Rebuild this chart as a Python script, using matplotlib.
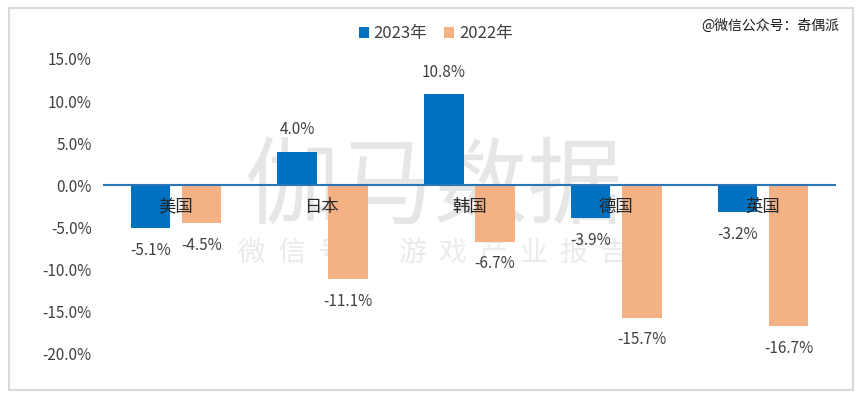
import numpy as np
import matplotlib
matplotlib.use("Agg")
import matplotlib.pyplot as plt
from matplotlib.patches import Rectangle

plt.rcParams["font.family"] = ["Noto Sans CJK SC", "DejaVu Sans"]

countries = ["美国", "日本", "韩国", "德国", "英国"]
growth_2023 = [-5.1, 4.0, 10.8, -3.9, -3.2]
growth_2022 = [-4.5, -11.1, -6.7, -15.7, -16.7]
series_names = ["2023年", "2022年"]
y_ticks = [-20, -15, -10, -5, 0, 5, 10, 15]

BLUE = "#0070C0"
ORANGE = "#F4B183"
TEXT = "#404040"

fig = plt.figure(figsize=(8.63, 3.98), dpi=100)
ax = fig.add_axes([0.119, 0.111, 0.850, 0.741])

x = np.arange(len(countries))
w = 0.27
off = 0.174
b1 = ax.bar(x - off, growth_2023, w, color=BLUE, label=series_names[0], zorder=3)
b2 = ax.bar(x + off, growth_2022, w, color=ORANGE, label=series_names[1], zorder=3)

for bars, vals in ((b1, growth_2023), (b2, growth_2022)):
    for rect, v in zip(bars, vals):
        cx = rect.get_x() + rect.get_width() / 2
        dy = 16 if v >= 0 else -16
        ax.annotate(f"{v:.1f}%", (cx, v), xytext=(0, dy), textcoords="offset points",
                    ha="center", va="center", fontsize=11, color=TEXT, zorder=5)

for i, name in enumerate(countries):
    ax.text(i, -2.6, name, ha="center", va="center", fontsize=12.5, color="#262626", zorder=5)

ax.axhline(0, color="#2E75B6", lw=1.5, zorder=4)
ax.set_xlim(-0.5, len(countries) - 0.5)
ax.set_ylim(-20, 15)
ax.set_yticks(y_ticks)
ax.set_yticklabels([f"{t:.1f}%" for t in y_ticks], fontsize=11, color=TEXT)
ax.set_xticks([])
ax.tick_params(axis="y", length=0, pad=8)
for s in ax.spines.values():
    s.set_visible(False)

# watermark
fig.text(0.502, 0.525, "伽马数据", fontsize=68, fontweight="light", color="#E6E6E6",
         ha="center", va="center", zorder=0)
fig.text(0.502, 0.365, "微  信  号  ：  游  戏  产  业  报  告", fontsize=20, fontweight="light",
         color="#EBEBEB", ha="center", va="center", zorder=0)
ax.set_zorder(1)
ax.patch.set_alpha(0)

ax.legend(loc="center", bbox_to_anchor=(0.505, 0.915), bbox_transform=fig.transFigure,
          ncol=2, frameon=False, fontsize=12, handlelength=0.6, handleheight=0.6,
          handletextpad=0.3, columnspacing=1.0, labelcolor=TEXT)

fig.text(0.973, 0.935, "@微信公众号：奇偶派", fontsize=10, color="#1a1a1a", ha="right", va="center")

fig.patches.append(Rectangle((9 / 863, 8 / 398), 844 / 863, 382 / 398, transform=fig.transFigure,
                             fill=False, edgecolor="#D9D9D9", lw=1.5, zorder=10))

fig.savefig("out.png", dpi=100)
